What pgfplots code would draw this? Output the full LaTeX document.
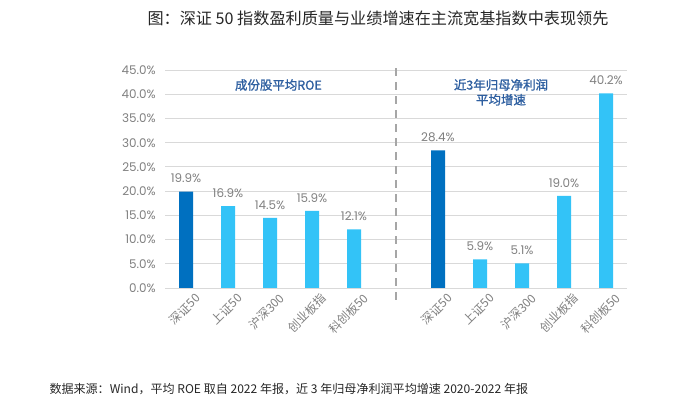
\documentclass[border=0pt]{standalone}
\usepackage{fontspec}
\setmainfont{Noto Sans CJK SC}
\newfontfamily\numfont{Poppins}
\newfontfamily\medfont{Noto Sans CJK SC}[FakeBold=1.2]
\usepackage{pgfplots}
\pgfplotsset{compat=1.18}
\definecolor{darkbar}{HTML}{0070C0}
\definecolor{lightbar}{HTML}{33C3F7}
\definecolor{ticktxt}{HTML}{7F7F7F}
\definecolor{gridc}{HTML}{D9D9D9}
\definecolor{paneltitle}{HTML}{2E5FA0}
\definecolor{divider}{HTML}{A6A6A6}

\begin{document}
\begin{tikzpicture}
\path[use as bounding box] (0bp,0bp) rectangle (700bp,411bp);
\node[font=\fontsize{16.2}{19}\selectfont, text=black!85] at (378bp,393bp)
  {图：深证 50 指数盈利质量与业绩增速在主流宽基指数中表现领先};
\node[font=\fontsize{12.1}{14}\selectfont, anchor=west, text=black!85] at (46bp,22bp)
  {数据来源：Wind，平均 ROE 取自 2022 年报，近 3 年归母净利润平均增速 2020-2022 年报};
\begin{axis}[
  at={(165bp,123bp)}, anchor=south west,
  scale only axis, width=462bp, height=218bp,
  xmin=-0.5, xmax=10.5, ymin=0, ymax=45,
  axis x line*=bottom, axis y line*=left,
  x axis line style={draw=gridc, line width=0.8pt, -},
  y axis line style={draw=none},
  ymajorgrids, grid style={draw=gridc, line width=0.8pt},
  major tick length=0pt,
  ytick={0,5,...,45},
  /pgf/number format/assume math mode=true,
  yticklabel={\numfont\pgfmathprintnumber[fixed,fixed zerofill,precision=1]{\tick}\%},
  yticklabel style={font=\fontsize{12}{14}\selectfont, text=ticktxt, anchor=east, inner sep=0pt, xshift=-9bp},
  xtick={0,1,2,3,4,6,7,8,9,10},
  xticklabels={深证50,上证50,沪深300,创业板指,科创板50,深证50,上证50,沪深300,创业板指,科创板50},
  xticklabel style={font=\fontsize{12}{14}\selectfont, text=ticktxt, xshift=8bp, yshift=-4bp, rotate=45, anchor=north east, inner sep=0pt},
  ybar, bar width=14bp,
  nodes near coords={\numfont\pgfmathprintnumber[fixed,fixed zerofill,precision=1]{\pgfplotspointmeta}\%},
  every node near coord/.append style={font=\fontsize{12}{14}\selectfont, text=ticktxt, yshift=5bp},
  clip=false,
]
\addplot[fill=darkbar, draw=none, bar shift=0pt] coordinates {(0,19.9) (6,28.4)};
\addplot[fill=lightbar, draw=none, bar shift=0pt] coordinates {
  (1,16.9) (2,14.5) (3,15.9) (4,12.1) (7,5.9) (8,5.1) (9,19.0) (10,40.2)};
\draw[divider, line width=2.6pt, dash pattern=on 8bp off 6bp] (axis cs:5,45.4) -- (axis cs:5,-3.2);
\node[font=\medfont\fontsize{12.5}{15}\selectfont, text=paneltitle] at (axis cs:2.2,41.9) {成份股平均ROE};
\node[font=\medfont\fontsize{12.5}{15}\selectfont, text=paneltitle, align=center] at (axis cs:7.5,40.4) {近3年归母净利润\\平均增速};
\end{axis}
\end{tikzpicture}
\end{document}
